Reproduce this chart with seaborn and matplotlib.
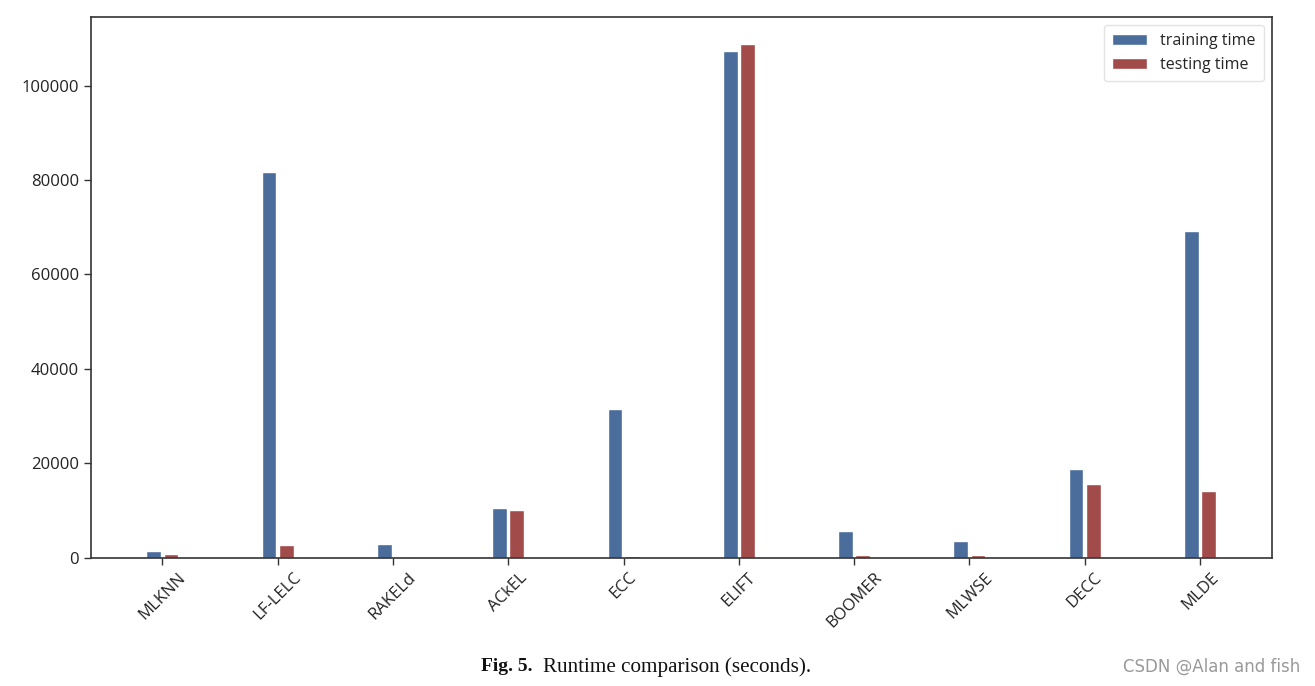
import matplotlib
matplotlib.use("Agg")
import matplotlib.pyplot as plt
import seaborn as sns
import pandas as pd

methods = ["MLKNN", "LF-LELC", "RAKELd", "ACkEL", "ECC", "ELIFT", "BOOMER", "MLWSE", "DECC", "MLDE"]
training_time = [1500, 81800, 2800, 10600, 31500, 107400, 5700, 3600, 18800, 69100]
testing_time = [700, 2750, 60, 10150, 450, 108900, 550, 550, 15650, 14200]
series_names = ["training time", "testing time"]
yticks = [0, 20000, 40000, 60000, 80000, 100000]

df = pd.DataFrame({
    "method": methods * 2,
    "time": training_time + testing_time,
    "series": [series_names[0]] * len(methods) + [series_names[1]] * len(methods),
})

sns.set_theme(style="white")
plt.rcParams["font.family"] = ["Open Sans", "DejaVu Sans"]

fig = plt.figure(figsize=(13.15, 6.86), dpi=100)
ax = fig.add_axes([0.069, 0.187, 0.898, 0.788])

palette = {"training time": "#4a6d9c", "testing time": "#a24b4b"}
sns.barplot(data=df, x="method", y="time", hue="series", palette=palette,
            width=0.3, gap=0.15, saturation=1, ax=ax, errorbar=None)

ax.set_xlim(-0.62, len(methods) - 1 + 0.62)
ax.set_ylim(0, 114500)
ax.set_yticks(yticks)
ax.set_yticklabels([str(v) for v in yticks], fontsize=12, color="#222222")
ax.set_xlabel("")
ax.set_ylabel("")
ax.set_xticks(range(len(methods)))
ax.set_xticklabels(methods, rotation=45, fontsize=12, color="#222222")
ax.tick_params(axis="both", which="major", direction="out", length=5, width=1,
               color="#333333", left=True, bottom=True)
for s in ax.spines.values():
    s.set_color("#333333")
    s.set_linewidth(1.2)

leg = ax.legend(loc="upper right", fontsize=11.5, frameon=True, fancybox=True,
                handlelength=2.2, borderpad=0.5)
leg.get_frame().set_edgecolor("#dddddd")

fig.text(0.405, 0.028, "Fig. 5.", family="Liberation Serif", fontweight="bold",
         fontsize=14, ha="right", va="center", color="#111111")
fig.text(0.413, 0.028, "Runtime comparison (seconds).", family="Liberation Serif",
         fontsize=15.2, ha="left", va="center", color="#111111")
fig.text(0.989, 0.028, "CSDN @Alan and fish", fontsize=12, ha="right", va="center",
         color="#999999", family="DejaVu Sans")

fig.savefig("out.png", dpi=100, facecolor="white")
